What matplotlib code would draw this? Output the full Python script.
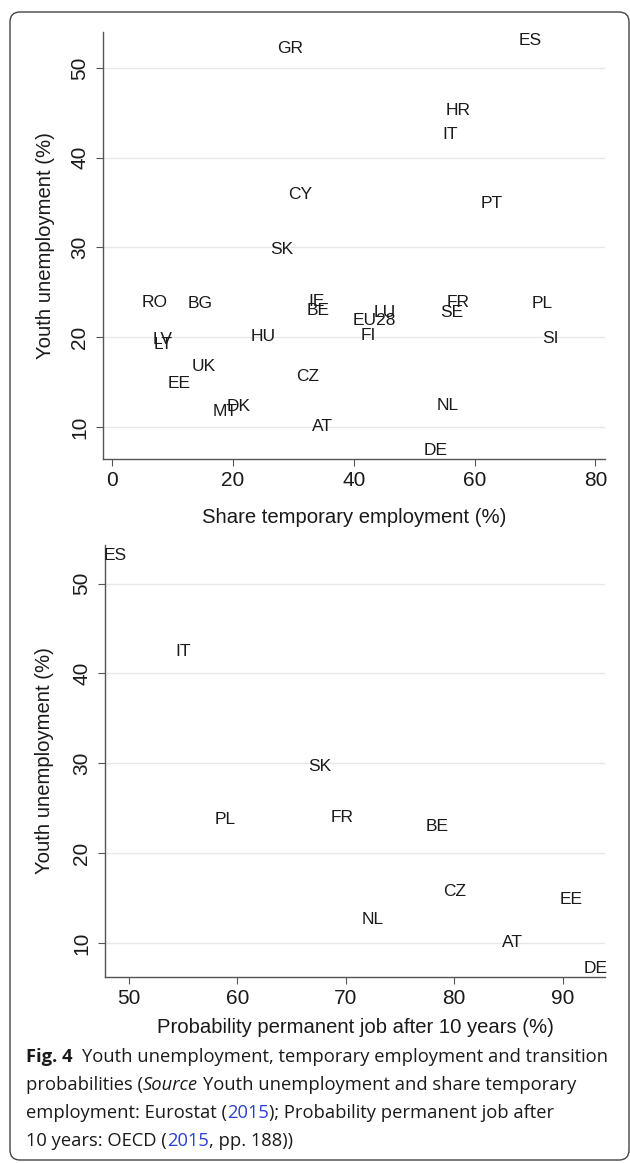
import matplotlib
matplotlib.use("Agg")
import matplotlib.pyplot as plt
from matplotlib.patches import FancyBboxPatch
from matplotlib.transforms import IdentityTransform

# panel 1: share temporary employment vs youth unemployment
top_codes = ["GR", "ES", "HR", "IT", "PT", "CY", "SK", "RO", "BG", "IE",
             "BE", "EU28", "LU", "FI", "FR", "SE", "PL", "SI", "LV", "LT",
             "HU", "UK", "EE", "MT", "DK", "CZ", "NL", "AT", "DE"]
top_temp = [29.5, 69.2, 57.3, 56.0, 62.9, 31.1, 28.1, 7.1, 14.6, 33.8,
            34.1, 43.4, 45.2, 42.4, 57.3, 56.3, 71.2, 72.5, 8.4, 8.4,
            25.0, 15.2, 11.1, 18.7, 21.0, 32.3, 55.5, 34.9, 53.5]
top_youth = [52.2, 53.1, 45.3, 42.6, 34.9, 35.9, 29.8, 23.9, 23.7, 24.0,
             23.0, 21.9, 22.7, 20.2, 23.9, 22.7, 23.8, 19.9, 19.7, 19.2,
             20.1, 16.7, 14.8, 11.7, 12.3, 15.6, 12.4, 10.0, 7.4]

# panel 2: probability of permanent job after 10 years vs youth unemployment
bot_codes = ["ES", "IT", "SK", "PL", "FR", "BE", "CZ", "EE", "NL", "AT", "DE"]
bot_prob = [48.7, 55.0, 67.6, 58.9, 69.7, 78.4, 80.0, 90.8, 72.5, 85.4, 93.0]
bot_youth = [53.1, 42.4, 29.6, 23.8, 24.0, 23.0, 15.7, 14.8, 12.6, 10.1, 7.2]

top_xticks = [0, 20, 40, 60, 80]
bot_xticks = [50, 60, 70, 80, 90]
yticks = [10, 20, 30, 40, 50]

W, H = 630, 1163
fig = plt.figure(figsize=(W / 100, H / 100), dpi=100)
fig.patch.set_facecolor("white")

plt.rcParams["font.family"] = ["Liberation Sans", "DejaVu Sans"]


def px_axes(left, top, right, bottom):
    return fig.add_axes([left / W, 1 - bottom / H, (right - left) / W, (bottom - top) / H])


def style(ax, xlabel, xt, xlim, ylim, xlab_y, ylab_x):
    ax.set_xlim(*xlim)
    ax.set_ylim(*ylim)
    ax.set_xticks(xt)
    ax.set_yticks(yticks)
    for s in ["top", "right"]:
        ax.spines[s].set_visible(False)
    for s in ["left", "bottom"]:
        ax.spines[s].set_color("#555555")
        ax.spines[s].set_linewidth(1.0)
    ax.grid(axis="y", color="#e8e8e8", linewidth=1.0)
    ax.set_axisbelow(True)
    ax.tick_params(axis="both", direction="out", length=5, width=0.8,
                   color="#555555", labelsize=15, labelcolor="#1a1a1a")
    ax.tick_params(axis="y", pad=5)
    ax.tick_params(axis="x", pad=4)
    for lab in ax.get_yticklabels():
        lab.set_rotation(90)
        lab.set_va("center")
    ax.set_xlabel(xlabel, fontsize=14.6, color="#1a1a1a", va="center")
    ax.xaxis.set_label_coords(0.5, xlab_y)
    ax.set_ylabel("Youth unemployment (%)", fontsize=14.6, color="#1a1a1a", va="center")
    ax.yaxis.set_label_coords(ylab_x, 0.5)


# top panel
ax1 = px_axes(103, 32, 605, 459)
style(ax1, "Share temporary employment (%)", top_xticks,
      (-1.5, 81.6), (6.42, 54.0), -0.138, -0.1155)
for c, x, y in zip(top_codes, top_temp, top_youth):
    ax1.text(x, y, c, ha="center", va="center", fontsize=12.5,
             color="#1a1a1a", clip_on=False)

# bottom panel
ax2 = px_axes(105, 545, 605, 977)
style(ax2, "Probability permanent job after 10 years (%)", bot_xticks,
      (47.8, 93.9), (6.22, 54.3), -0.116, -0.12)
for c, x, y in zip(bot_codes, bot_prob, bot_youth):
    ax2.text(x, y, c, ha="center", va="center", fontsize=12.5,
             color="#1a1a1a", clip_on=False)

# outer frame
frame = FancyBboxPatch((10, H - 1160), 619, 1148,
                       boxstyle="round,pad=0,rounding_size=10",
                       transform=IdentityTransform(), fill=False,
                       edgecolor="#444444", linewidth=1.0)
fig.patches.append(frame)

# caption with mixed styles
cap_font = ["Open Sans", "DejaVu Sans"]
cap_size = 13.2
blue = "#2b3fd1"
renderer = fig.canvas.get_renderer()


def width_px(s, **kw):
    t = fig.text(0, 0, s, fontsize=cap_size, family=cap_font, **kw)
    w = t.get_window_extent(renderer=renderer).width
    t.remove()
    return w


space = width_px("a a") - width_px("aa")


def put_line(x, y, runs):
    for s, kw, gap in runs:
        props = {"color": "#1a1a1a"}
        props.update(kw)
        t = fig.text(x / W, 1 - y / H, s, fontsize=cap_size, family=cap_font,
                     va="baseline", ha="left", **props)
        x += t.get_window_extent(renderer=renderer).width + gap * space


put_line(26, 1062, [("Fig. 4", {"weight": "bold"}, 2),
                    ("Youth unemployment, temporary employment and transition", {}, 0)])
put_line(26, 1090, [("probabilities (", {}, 0),
                    ("Source", {"style": "italic"}, 1),
                    ("Youth unemployment and share temporary", {}, 0)])
put_line(26, 1118, [("employment: Eurostat (", {}, 0),
                    ("2015", {"color": blue}, 0),
                    ("); Probability permanent job after", {}, 0)])
put_line(26, 1146, [("10 years: OECD (", {}, 0),
                    ("2015", {"color": blue}, 0),
                    (", pp. 188))", {}, 0)])

fig.savefig("out.png", dpi=100)
